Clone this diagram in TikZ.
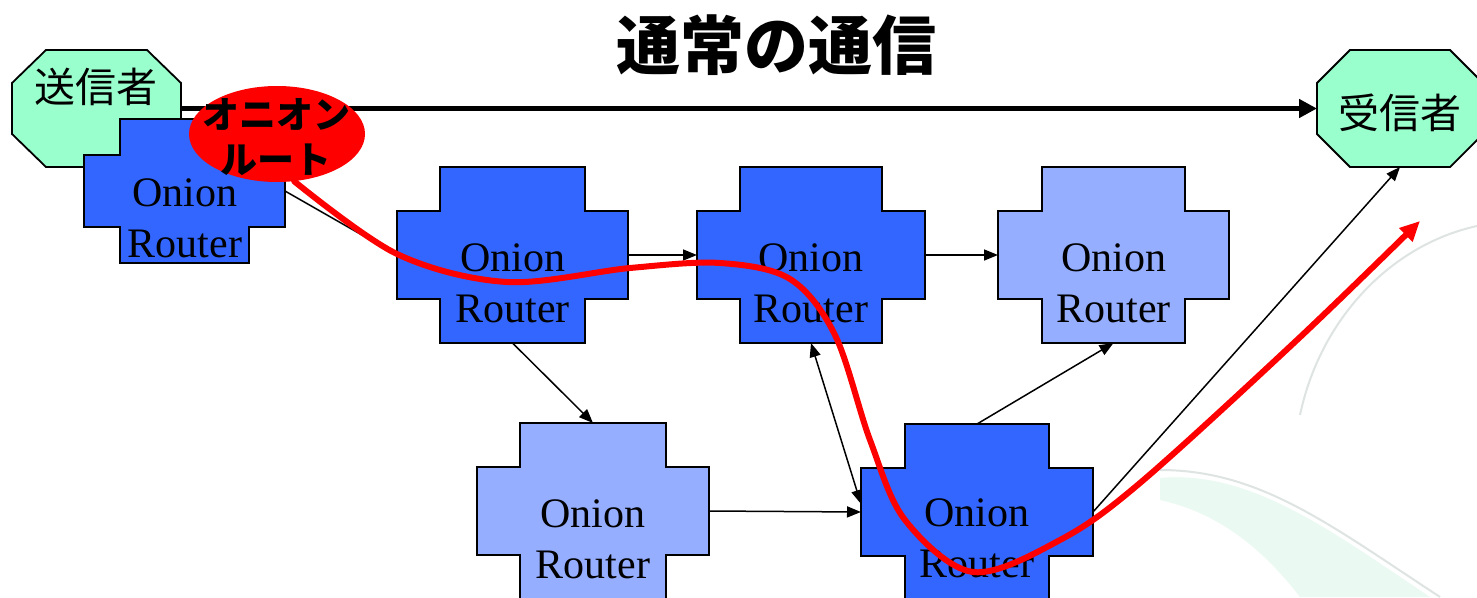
\documentclass[tikz,border=0pt]{standalone}
\usepackage{fontspec}
\setmainfont{Liberation Serif}
\newfontfamily\jp{Noto Sans CJK JP}
\usetikzlibrary{arrows.meta,calc,shapes.geometric}
\definecolor{rblue}{RGB}{51,102,255}
\definecolor{lblue}{RGB}{150,174,255}
\definecolor{mint}{RGB}{153,255,204}
\definecolor{swirl}{RGB}{234,249,241}
\definecolor{swirlline}{RGB}{222,228,225}
\newcommand\crossdraw[4]{%
  \path[#4] ($(#1.north west)+(#2,0)$) -- ($(#1.north east)+(-#2,0)$)
   -- ($(#1.north east)+(-#2,#3)$) -- ($(#1.north east)+(0,#3)$)
   -- ($(#1.south east)+(0,-#3)$) -- ($(#1.south east)+(-#2,-#3)$)
   -- ($(#1.south east)+(-#2,0)$) -- ($(#1.south west)+(#2,0)$)
   -- ($(#1.south west)+(#2,-#3)$) -- ($(#1.south west)+(0,-#3)$)
   -- ($(#1.north west)+(0,#3)$) -- ($(#1.north west)+(#2,#3)$) -- cycle;}
\newcommand\octdraw[4]{%
  \path[#4] ($(#1.north west)+(#2,0)$) -- ($(#1.north east)+(-#2,0)$)
   -- ($(#1.north east)+(0,#3)$) -- ($(#1.south east)+(0,-#3)$)
   -- ($(#1.south east)+(-#2,0)$) -- ($(#1.south west)+(#2,0)$)
   -- ($(#1.south west)+(0,-#3)$) -- ($(#1.north west)+(0,#3)$) -- cycle;}
\tikzset{
  box/.style={rectangle,inner sep=0pt,outer sep=0pt},
  rbody/.style={draw=black,line width=2pt,fill=rblue},
  lbody/.style={draw=black,line width=2pt,fill=lblue},
  obody/.style={draw=black,line width=1.8pt,fill=mint},
  rtext/.style={inner sep=0pt,align=center,font=\fontsize{42}{51}\selectfont},
  jtext/.style={inner sep=0pt,font=\fontsize{41}{45}\jp},
  conn/.style={draw=black,line width=1.5pt,-{Triangle[length=14pt,width=11pt]}},
  mainarrow/.style={draw=black,line width=5pt,-{Triangle[length=18pt,width=18pt]}},
  redroute/.style={draw=red,line width=6pt,line cap=round,-{Triangle[length=20pt,width=18pt]}},
}
\begin{document}
\begin{tikzpicture}[x=1pt,y=-1pt]
\useasboundingbox (0,0) rectangle (1477,597);
\clip (0,0) rectangle (1477,597);
\fill[white] (0,0) rectangle (1477,597);
% faint background swirl
\fill[swirl] (1160,478) .. controls (1250,470) and (1330,530) .. (1430,597)
  -- (1300,597) .. controls (1260,545) and (1215,512) .. (1160,500) -- cycle;
\draw[swirlline,line width=2pt] (1160,470) .. controls (1260,470) and (1330,525) .. (1440,597);
\draw[swirlline,line width=2pt] (1477,226) .. controls (1390,245) and (1320,320) .. (1300,415);
% invisible frames of the shapes
\node[box,minimum width=169pt,minimum height=117pt] (send) at (96.5,108.5) {};
\node[box,minimum width=166pt,minimum height=117pt] (recv) at (1400,108.5) {};
\node[box,minimum width=201pt,minimum height=144pt] (r1) at (184.5,191) {};
\node[box,minimum width=231pt,minimum height=176pt] (r2) at (512.5,255) {};
\node[box,minimum width=228pt,minimum height=176pt] (r3) at (811,255) {};
\node[box,minimum width=231pt,minimum height=176pt] (r4) at (1113.5,255) {};
\node[box,minimum width=232pt,minimum height=176pt] (r5) at (593,511) {};
\node[box,minimum width=232pt,minimum height=176pt] (r6) at (977,512) {};
% title
\node[inner sep=0pt,font=\fontsize{64}{70}\jp\bfseries] (title) at (776,45) {通常の通信};
% sender
\octdraw{send}{34}{33}{obody}
\node[jtext] (sendt) at (96,87) {送信者};
% direct communication
\draw[mainarrow] (send.east) -- (recv.west);
% receiver
\octdraw{recv}{33}{33}{obody}
\node[jtext] (recvt) at (1400,113) {受信者};
% thin connectors
\draw[draw=black,line width=1.5pt] (r1.east) -- (r2.west);
\draw[conn] (r2.east) -- (r3.west);
\draw[conn] (r3.east) -- (r4.west);
\draw[conn] (r2.south) -- (r5.north);
\draw[conn,{Triangle[length=14pt,width=11pt]}-{Triangle[length=14pt,width=11pt]}] (r3.south) -- ([yshift=8pt]r6.west);
\draw[conn] (r5.east) -- (r6.west);
\draw[conn] (r6.north) -- (r4.south);
\draw[conn] (r6.east) -- (recv.south);
% routers
\crossdraw{r1}{36}{36}{rbody}
\crossdraw{r2}{43}{44}{rbody}
\crossdraw{r3}{43}{44}{rbody}
\crossdraw{r4}{44}{44}{lbody}
\crossdraw{r5}{43}{44}{lbody}
\crossdraw{r6}{44}{44}{rbody}
\node[rtext] (r1t) at (185,218) {Onion\\Router};
\node[rtext] (r2t) at (512.5,283) {Onion\\Router};
\node[rtext] (r3t) at (811,283) {Onion\\Router};
\node[rtext] (r4t) at (1113.5,283) {Onion\\Router};
\node[rtext] (r5t) at (593,539) {Onion\\Router};
\node[rtext] (r6t) at (977,538) {Onion\\Router};
% onion route label
\node[ellipse,fill=red,inner sep=0pt,minimum width=176pt,minimum height=96pt] (oroute) at (277,134) {};
\node[inner sep=0pt,align=center,font=\fontsize{37}{45}\jp\bfseries] (oroutet) at (276,137) {オニオン\\ルート};
% onion route path
\draw[redroute] plot[smooth,tension=0.55] coordinates {(oroute.-70) (397,254) (507,282) (630,268) (720,263) (790,279) (835,335) (870,440) (905,520) (973,572) (1060,540) (1140,483) (1297,340) (1420,221)};
\end{tikzpicture}
\end{document}
